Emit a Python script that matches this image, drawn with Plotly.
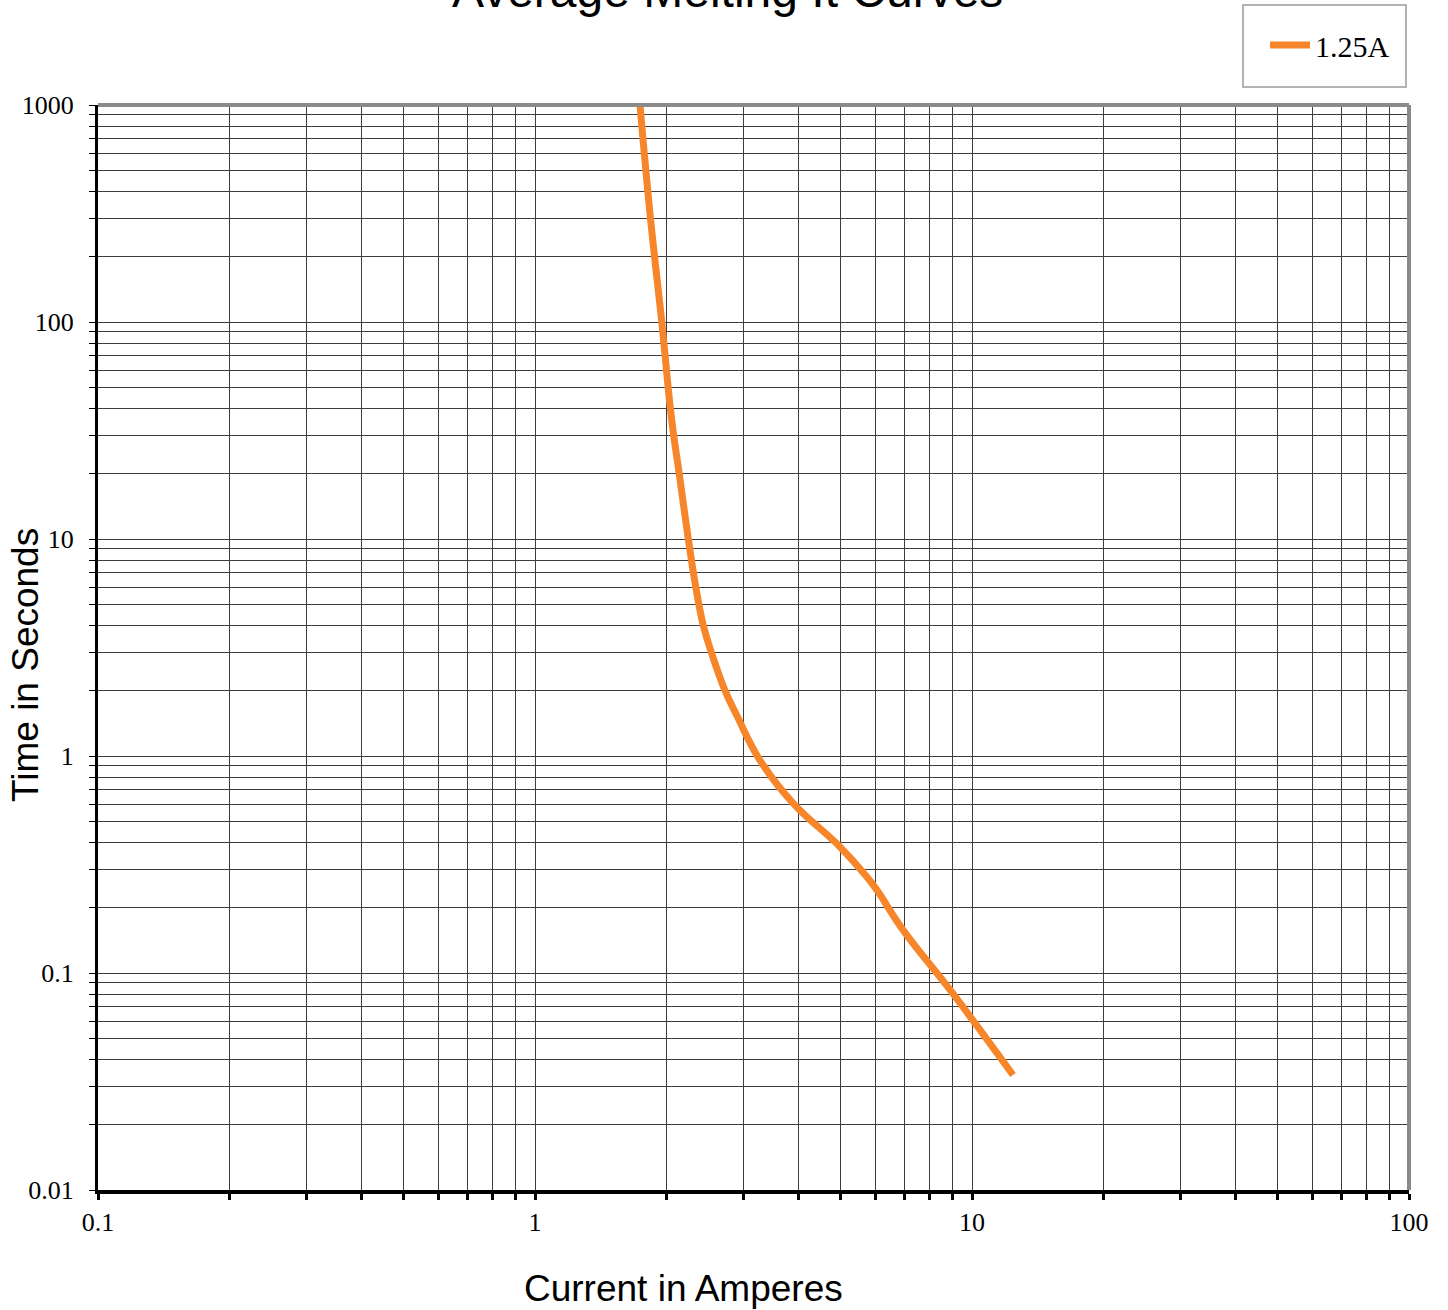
import plotly.graph_objects as go

# Data (current in A, time in s)
current = [1.739, 1.834, 1.950, 2.055, 2.139, 2.243, 2.332, 2.427, 2.537, 2.722, 2.904,
           3.27, 3.894, 4.99, 5.75, 6.06, 6.95, 8.91, 12.41]
time_s = [1000, 312, 100, 35.3, 19.9, 10, 6.03, 4.0, 2.97, 2.0, 1.52,
          0.958, 0.607, 0.381, 0.277, 0.241, 0.158, 0.0835, 0.0339]
series_name = "1.25A"

x_decades = [0.1, 1, 10, 100]
x_labels = ["0.1", "1", "10", "100"]
y_decades = [0.01, 0.1, 1, 10, 100, 1000]
y_labels = ["0.01", "0.1", "1", "10", "100", "1000"]

def log_ticks(decades, labels):
    vals, texts = [], []
    for i, d in enumerate(decades):
        vals.append(d)
        texts.append(labels[i])
        if i < len(decades) - 1:
            for m in range(2, 10):
                vals.append(d * m)
                texts.append("")
    return vals, texts

xv, xt = log_ticks(x_decades, x_labels)
yv, yt = log_ticks(y_decades, y_labels)

W, H = 1448, 1310
L, R, T, B = 98, 39, 105, 120
PW, PH = W - L - R, H - T - B

def px_x(p):
    return (p - L) / PW

def px_y(p):
    return 1 - (p - T) / PH

fig = go.Figure()
fig.add_trace(go.Scatter(
    x=current, y=time_s, mode="lines", name=series_name,
    line=dict(color="#F7862A", width=7, shape="spline", smoothing=1.2),
))

grid_col = "#3c3c3c"
serif = "Liberation Serif, Times New Roman, serif"
sans = "Liberation Sans, Arial, sans-serif"
tick_font = dict(family=serif, size=26, color="black")

fig.update_layout(
    width=W, height=H,
    margin=dict(l=L, r=R, t=T, b=B, pad=0),
    paper_bgcolor="white", plot_bgcolor="white",
    showlegend=True,
    legend=dict(
        x=px_x(1265), y=px_y(19),
        xanchor="left", yanchor="top",
        borderwidth=0, bgcolor="rgba(0,0,0,0)",
        font=dict(family=serif, size=30, color="black"),
        itemwidth=40,
    ),
    xaxis=dict(
        type="log", range=[-1, 2],
        tickvals=xv, ticktext=xt, tickfont=tick_font,
        showgrid=True, gridcolor=grid_col, gridwidth=1,
        ticks="outside", ticklen=6, tickwidth=3, tickcolor="black",
        showline=True, linecolor="black", linewidth=4,
        zeroline=False,
    ),
    yaxis=dict(
        type="log", range=[-2, 3],
        tickvals=yv, ticktext=yt, tickfont=tick_font,
        ticklabelstandoff=10,
        showgrid=True, gridcolor=grid_col, gridwidth=1,
        ticks="outside", ticklen=6, tickwidth=1, tickcolor="black",
        showline=True, linecolor="black", linewidth=3,
        zeroline=False,
    ),
    shapes=[
        dict(type="line", xref="paper", yref="paper", x0=0, x1=1, y0=1, y1=1,
             line=dict(color="#8a8a8a", width=4)),
        dict(type="line", xref="paper", yref="paper", x0=1, x1=1, y0=0, y1=1,
             line=dict(color="#8a8a8a", width=4)),
        dict(type="rect", xref="paper", yref="paper",
             x0=px_x(1243), x1=px_x(1406), y0=px_y(87), y1=px_y(5),
             line=dict(color="#9a9a9a", width=1.5), fillcolor="rgba(0,0,0,0)"),
    ],
    annotations=[
        dict(text="Average Melting It Curves", xref="paper", yref="paper",
             x=px_x(727), y=px_y(-9),
             xanchor="center", yanchor="middle", showarrow=False,
             font=dict(family=sans, size=48, color="black")),
        dict(text="Current in Amperes", xref="paper", yref="paper",
             x=px_x(683), y=px_y(1288),
             xanchor="center", yanchor="middle", showarrow=False,
             font=dict(family=sans, size=37, color="black")),
        dict(text="Time in Seconds", xref="paper", yref="paper",
             x=px_x(25), y=px_y(665),
             xanchor="center", yanchor="middle", showarrow=False, textangle=-90,
             font=dict(family=sans, size=37, color="black")),
    ],
)

fig.write_html("out.html", config={"displayModeBar": False},
               post_script="document.body.style.margin='0px';")
